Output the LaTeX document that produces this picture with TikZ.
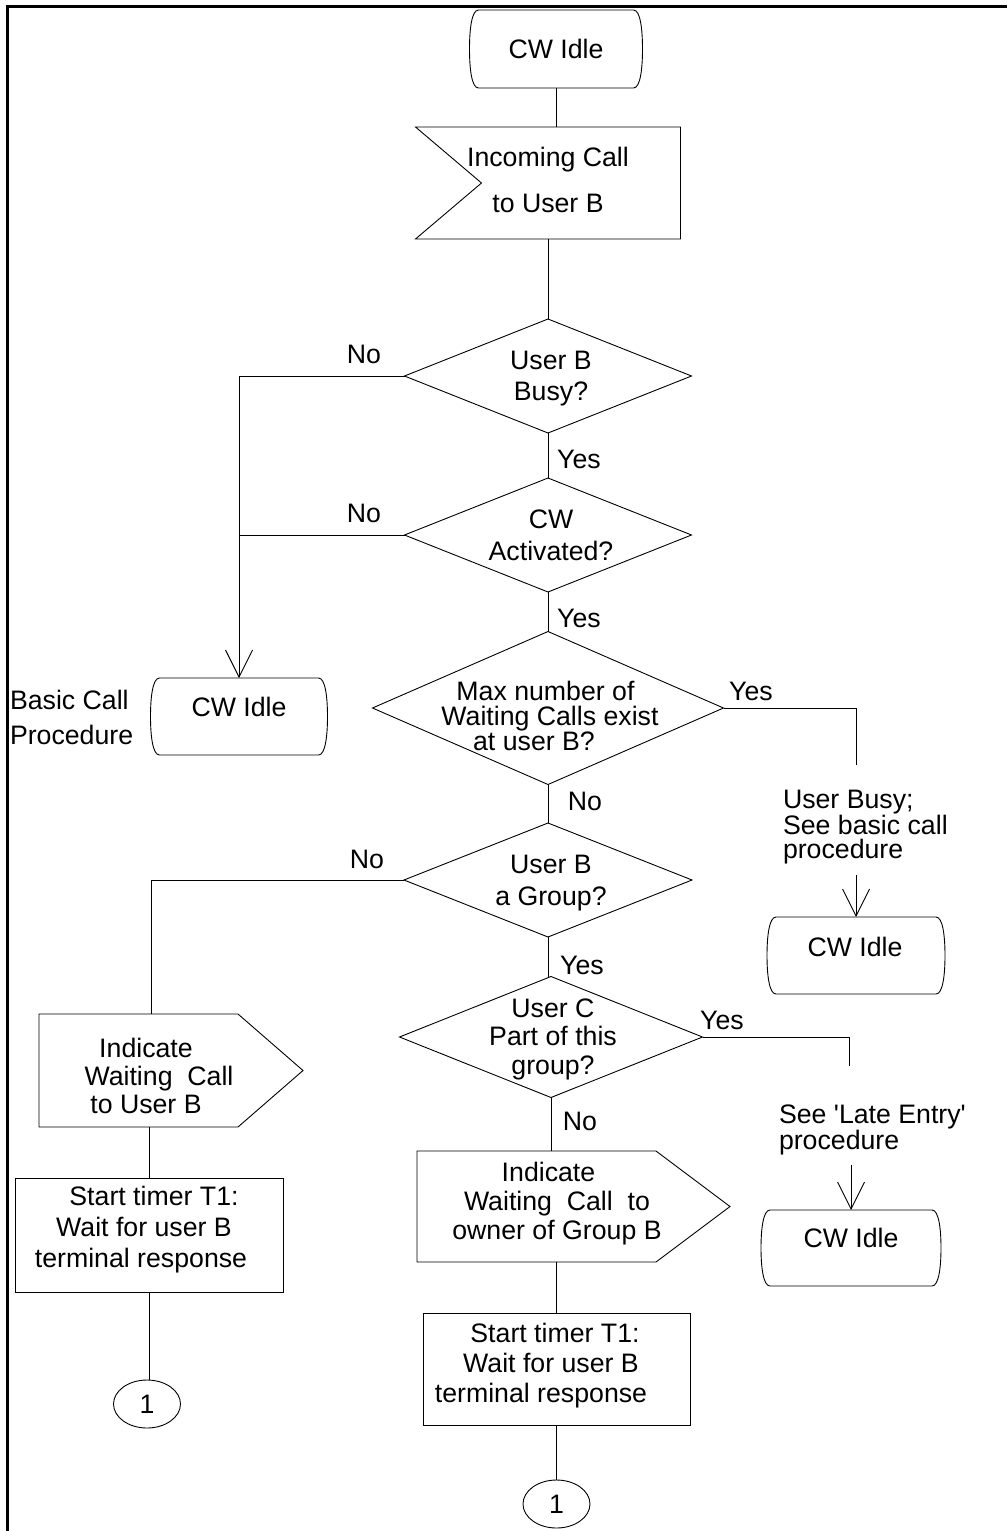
\documentclass[tikz,border=0pt]{standalone}
\usepackage{fontspec}
\setmainfont{Liberation Sans}[Ligatures=TeXOff]
\usetikzlibrary{shapes.geometric,arrows.meta,calc}
\newcommand\stateoutline[1]{%
  \draw[line width=0.9pt] ([xshift=9pt]#1.north west) -- ([xshift=-9pt]#1.north east)
    .. controls ([xshift=-2pt]#1.north east) and ([yshift=-20pt]#1.north east) .. (#1.east)
    .. controls ([yshift=20pt]#1.south east) and ([xshift=-2pt]#1.south east) .. ([xshift=-9pt]#1.south east)
    -- ([xshift=9pt]#1.south west)
    .. controls ([xshift=2pt]#1.south west) and ([yshift=20pt]#1.south west) .. (#1.west)
    .. controls ([yshift=-20pt]#1.north west) and ([xshift=2pt]#1.north west) .. ([xshift=9pt]#1.north west) -- cycle;}
\begin{document}
\begin{tikzpicture}[x=1pt,y=-1pt,
  every node/.style={inner sep=0pt, outer sep=0pt},
  ln/.style={line width=0.9pt},
  arr/.style={line width=0.9pt,-{Straight Barb[length=27pt,width=27pt]}},
  stbox/.style={rectangle},
  dia/.style={draw, line width=0.9pt, diamond},
  box/.style={draw, line width=0.9pt, rectangle},
  conn/.style={draw, line width=0.9pt, ellipse, minimum width=67pt, minimum height=48pt, font=\fontsize{26.7}{30}\selectfont},
  txt/.style={font=\fontsize{26.7}{#1}\selectfont, align=center},
  txt/.default=31,
  ltxt/.style={font=\fontsize{26.7}{#1}\selectfont, align=left, anchor=west},
  ltxt/.default=24,
  lbl/.style={font=\fontsize{26.7}{30}\selectfont}]
\useasboundingbox (0,0) rectangle (1007,1531);
\draw[line width=3pt] (7,1531) -- (7,6) -- (1007,6);

% top state and input
\node[stbox, minimum width=173pt, minimum height=78pt, txt] (idle0) at (556,49) {CW Idle};
\stateoutline{idle0}
\node[minimum width=265pt, minimum height=112pt] (inc) at (548,183) {};
\draw[ln] (inc.north west) -- (inc.north east) -- (inc.south east) -- (inc.south west) -- ([xshift=66pt]inc.west) -- cycle;
\node[txt=46] (inct) at (548,180) {Incoming Call\\to User B};

% decisions
\node[dia, minimum width=287pt, minimum height=114pt] (d1) at (548,376) {};
\node[txt=31] (d1t) at (551,379) {User B\\Busy?};
\node[dia, minimum width=287pt, minimum height=114pt] (d2) at (548,535) {};
\node[txt=32] (d2t) at (551,535) {CW\\Activated?};
\node[dia, minimum width=351pt, minimum height=153pt] (d3) at (548,708) {};
\node[txt=25] (d3t) at (550,716) {Max number of\hspace*{9pt}\\Waiting Calls exist\\at user B?\hspace*{32pt}};
\node[dia, minimum width=288pt, minimum height=114pt] (d4) at (548,880) {};
\node[txt=32] (d4t) at (551,883) {User B\\a Group?};
\node[dia, minimum width=303pt, minimum height=121pt] (d5) at (551,1037) {};
\node[txt=28.5] (d5t) at (553,1039) {User C\\Part of this\\group?};

% left branch
\node[stbox, minimum width=177pt, minimum height=77pt] (idleL) at (239,716.5) {};
\stateoutline{idleL}
\node[txt] (idleLt) at (239,707) {CW Idle};
\node[ltxt=35] (bcp) at (10,717) {Basic Call\\Procedure};

% right states
\node[stbox, minimum width=178pt, minimum height=77pt] (idleR1) at (856,955.5) {};
\stateoutline{idleR1}
\node[txt] (idleR1t) at (855,947) {CW Idle};
\node[ltxt=24] (ubt) at (783,827) {User Busy;\\See basic call\\procedure};
\node[stbox, minimum width=180pt, minimum height=76pt] (idleR2) at (851,1248) {};
\stateoutline{idleR2}
\node[txt] (idleR2t) at (851,1238) {CW Idle};
\node[ltxt=24] (lett) at (779,1130) {See 'Late Entry'\\procedure};

% left output + task
\node[minimum width=264pt, minimum height=113pt] (indL) at (171,1070.5) {};
\draw[ln] (indL.north west) -- ([xshift=-65pt]indL.north east) -- (indL.east) -- ([xshift=-65pt]indL.south east) -- (indL.south west) -- cycle;
\node[txt=28] (indLt) at (159,1076) {Indicate\hspace*{26pt}\\Waiting\ \ Call\\to User B\hspace*{26pt}};
\node[box, minimum width=268pt, minimum height=114pt] (timerL) at (149,1235) {};
\node[txt=31] (timerLt) at (141,1230) {\hspace*{26pt}Start timer T1:\\\hspace*{6pt}Wait for user B\\terminal response};
\node[conn] (c1L) at (147,1404) {1};

% right output + task
\node[minimum width=313pt, minimum height=111pt] (indR) at (573.5,1206.5) {};
\draw[ln] (indR.north west) -- ([xshift=-74pt]indR.north east) -- (indR.east) -- ([xshift=-74pt]indR.south east) -- (indR.south west) -- cycle;
\node[txt=29] (indRt) at (557,1204) {Indicate\hspace*{17pt}\\Waiting\ \ Call\ \ to\hspace*{3pt}\\owner of Group B};
\node[box, minimum width=267pt, minimum height=112pt] (timerR) at (556.5,1369) {};
\node[txt=30] (timerRt) at (541,1366) {\hspace*{28pt}Start timer T1:\\\hspace*{20pt}Wait for user B\\terminal response};
\node[conn] (c1R) at (556.5,1504) {1};

% labels
\node[lbl] (no1) at (364,354) {No};
\node[lbl] (yes1) at (579,459) {Yes};
\node[lbl] (no2) at (364,513) {No};
\node[lbl] (yes2) at (579,618) {Yes};
\node[lbl] (yes3) at (751,691) {Yes};
\node[lbl] (no3) at (585,801) {No};
\node[lbl] (no4) at (367,859) {No};
\node[lbl] (yes4) at (582,965) {Yes};
\node[lbl] (yes5) at (722,1020) {Yes};
\node[lbl] (no5) at (580,1121) {No};

% connectors
\draw[ln] (idle0.south) -- (idle0.south |- inc.north);
\draw[ln] (inc.south) -- (d1.north);
\draw[ln] (d1.south) -- (d2.north);
\draw[ln] (d2.south) -- (d3.north);
\draw[ln] (d3.south) -- (d4.north);
\draw[arr] (d1.west) -| (idleL.north);
\draw[ln] (d2.west) -- (d2.west -| idleL.north);
\coordinate (ubtop) at (856,765);
\draw[ln] (d3.east) -| (ubtop);
\coordinate (ubarr) at (856,875);
\draw[arr] (ubarr) -- (idleR1.north);
\draw[ln] (d4.west) -| ([xshift=-20pt]indL.north);
\draw[ln] (timerL.north |- indL.south) -- (timerL.north);
\draw[ln] (timerL.south) -- (timerL.south |- c1L.north);
\draw[ln] (d4.south) -- (d4.south |- d5.north);
\coordinate (letop) at (849,1066);
\draw[ln] (d5.east) -| (letop);
\coordinate (learr) at (851,1165);
\draw[arr] (learr) -- (idleR2.north);
\draw[ln] (d5.south) -- (d5.south |- indR.north);
\draw[ln] (timerR.north |- indR.south) -- (timerR.north);
\draw[ln] (timerR.south) -- (c1R.north);
\end{tikzpicture}
\end{document}
